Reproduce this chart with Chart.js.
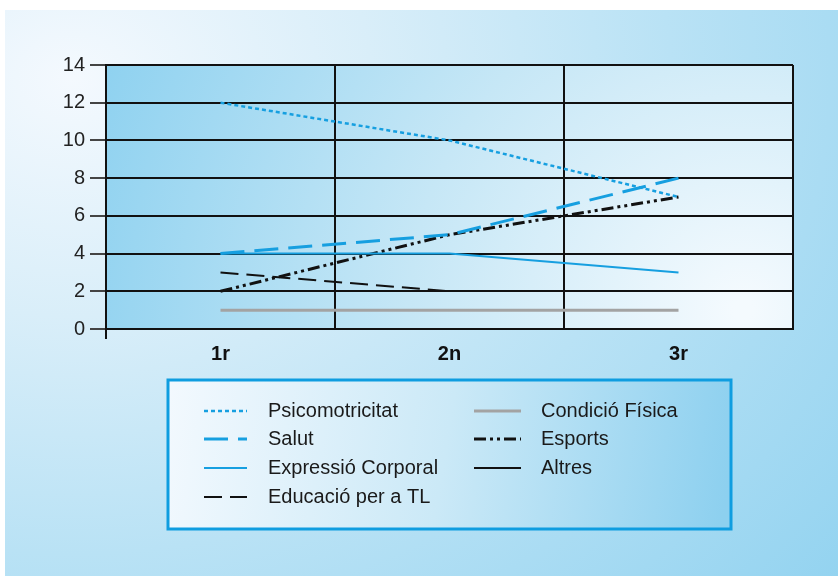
<!DOCTYPE html>
<html>
<head>
<meta charset="utf-8">
<script src="https://cdn.jsdelivr.net/npm/chart.js@4.4.1/dist/chart.umd.min.js"></script>
<style>
  html, body { margin: 0; padding: 0; background: #fff; }
  #wrap { position: relative; width: 838px; height: 576px; overflow: hidden; }
  #panel {
    position: absolute; left: 5px; top: 10px; width: 833px; height: 566px;
    background: radial-gradient(ellipse 120% 140% at 8% 12%, #f4f9fe 0%, #d9eef9 30%, #b9e2f5 60%, #93d3f0 100%);
  }
  #chart { position: absolute; left: 0; top: 0; }
</style>
</head>
<body>
<div id="wrap">
  <div id="panel"></div>
  <canvas id="chart" width="838" height="576"></canvas>
</div>
<script>
// categories and tick values
const courses = ['1r', '2n', '3r'];
const yTicks = [0, 2, 4, 6, 8, 10, 12, 14];

// one array per series (null = no visible line)
const psicomotricitat = [12, 10, 7];
const salut           = [4, 5, 8];
const expressio       = [4, 4, 3];
const educacioTL      = [3, 2, null];
const condicioFisica  = [1, 1, 1];
const esports         = [2, 5, 7];
const altres          = [null, null, null];

const BLUE = '#169fe0';
const FONT = '"Liberation Sans", Arial, sans-serif';

const series = [
  { label: 'Psicomotricitat',    data: psicomotricitat, borderColor: BLUE,      borderWidth: 2.5, borderDash: [4, 3],  col: 0 },
  { label: 'Salut',              data: salut,           borderColor: BLUE,      borderWidth: 3,   borderDash: [24, 10], col: 0 },
  { label: 'Expressió Corporal', data: expressio,       borderColor: BLUE,      borderWidth: 2,   borderDash: [],       col: 0 },
  { label: 'Educació per a TL',  data: educacioTL,      borderColor: '#111',    borderWidth: 2,   borderDash: [18, 8],  col: 0 },
  { label: 'Condició Física',    data: condicioFisica,  borderColor: '#a3a3a3', borderWidth: 3,   borderDash: [],       col: 1 },
  { label: 'Esports',            data: esports,         borderColor: '#111',    borderWidth: 3,   borderDash: [12, 4, 3, 4, 3, 4], col: 1 },
  { label: 'Altres',             data: altres,          borderColor: '#111',    borderWidth: 2,   borderDash: [],       col: 1 },
];

// plot area gradient: blue on the left fading to white near bottom right
const plotBg = {
  id: 'plotBg',
  beforeDraw(chart) {
    const { ctx, chartArea: a } = chart;
    const g = ctx.createRadialGradient(a.right - 50, a.bottom - 20, 10, a.right - 50, a.bottom - 20, a.right - a.left + 40);
    g.addColorStop(0, '#f4fafe');
    g.addColorStop(0.45, '#c6e7f6');
    g.addColorStop(1, '#88cfef');
    ctx.save();
    ctx.fillStyle = g;
    ctx.fillRect(a.left, a.top, a.right - a.left, a.bottom - a.top);
    ctx.restore();
  }
};

// boxed legend under the plot, two columns
const boxLegend = {
  id: 'boxLegend',
  afterDraw(chart) {
    const ctx = chart.ctx;
    const bx = 168, by = 380, bw = 563, bh = 149;
    ctx.save();
    const g = ctx.createLinearGradient(bx, by, bx + bw, by + bh * 0.6);
    g.addColorStop(0, '#f3f9fe');
    g.addColorStop(0.5, '#cbe9f7');
    g.addColorStop(1, '#8dd0ef');
    ctx.fillStyle = g;
    ctx.fillRect(bx, by, bw, bh);
    ctx.lineWidth = 3;
    ctx.strokeStyle = '#0f9de0';
    ctx.strokeRect(bx, by, bw, bh);

    const rows = [411, 439, 468, 497];
    const cols = [{ x0: 204, x1: 247, tx: 268 }, { x0: 474, x1: 521, tx: 541 }];
    const counts = [0, 0];
    ctx.font = '20px ' + FONT;
    ctx.textBaseline = 'middle';
    chart.data.datasets.forEach(ds => {
      const c = cols[ds.col];
      const y = rows[counts[ds.col]++];
      ctx.beginPath();
      ctx.lineWidth = ds.borderWidth;
      ctx.strokeStyle = ds.borderColor;
      ctx.setLineDash(ds.borderDash);
      ctx.moveTo(c.x0, y);
      ctx.lineTo(c.x1, y);
      ctx.stroke();
      ctx.setLineDash([]);
      ctx.fillStyle = '#1a1a1a';
      ctx.fillText(ds.label, c.tx, y);
    });
    ctx.restore();
  }
};

new Chart(document.getElementById('chart').getContext('2d'), {
  type: 'line',
  data: {
    labels: courses,
    datasets: series.map(s => ({
      label: s.label,
      data: s.data,
      borderColor: s.borderColor,
      borderWidth: s.borderWidth,
      borderDash: s.borderDash,
      col: s.col,
      pointRadius: 0,
      tension: 0,
      fill: false,
    })),
  },
  options: {
    responsive: false,
    animation: false,
    layout: { padding: { left: 0, top: 65, right: 45, bottom: 207 } },
    plugins: { legend: { display: false }, tooltip: { enabled: false } },
    scales: {
      x: {
        offset: true,
        grid: {
          offset: true,
          color: '#111',
          lineWidth: 2,
          tickLength: 10,
          tickColor: ctx => ctx.index === 0 ? '#111' : 'rgba(0,0,0,0)',
        },
        border: { color: '#111', width: 2 },
        ticks: { color: '#111', padding: 3, font: { family: FONT, size: 20, weight: 'bold' } },
        afterFit(s) { s.height = 40; },
      },
      y: {
        min: 0,
        max: 14,
        afterBuildTicks(s) { s.ticks = yTicks.map(v => ({ value: v })); },
        grid: { color: '#111', lineWidth: 2, tickLength: 16, tickColor: '#444' },
        border: { color: '#111', width: 2 },
        ticks: { color: '#222', padding: 5, font: { family: FONT, size: 20 } },
        afterFit(s) { s.width = 106; },
      },
    },
  },
  plugins: [plotBg, boxLegend],
});
</script>
</body>
</html>
